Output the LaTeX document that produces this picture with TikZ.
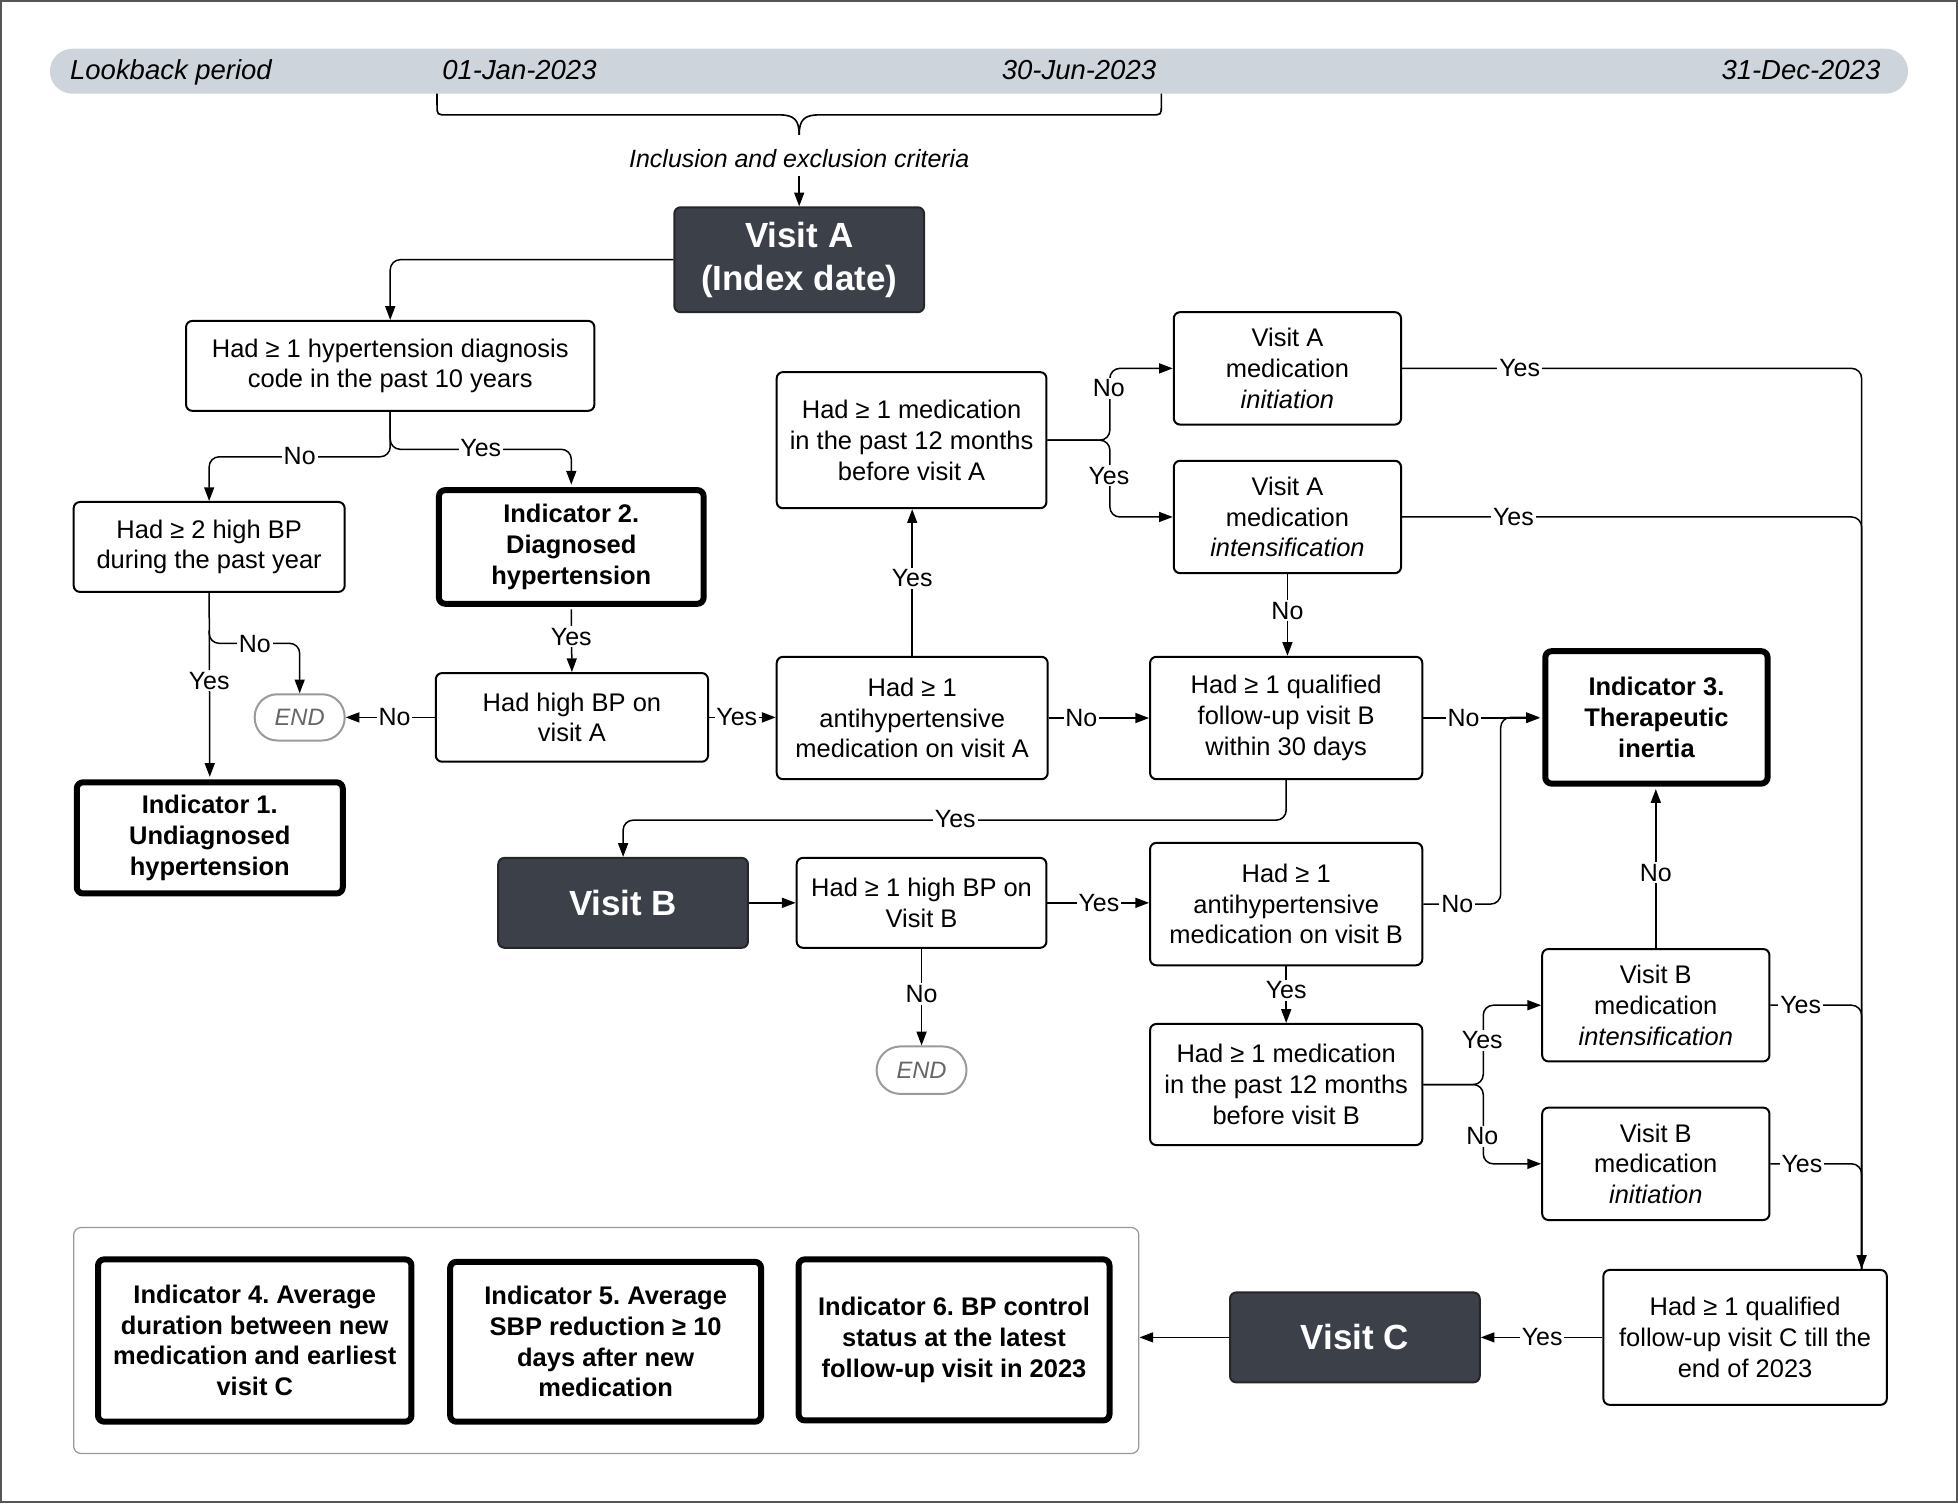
\documentclass[tikz,border=0pt]{standalone}
\usepackage{fontspec}
\setmainfont{Liberation Sans}
\usetikzlibrary{arrows.meta,calc}
\definecolor{dark}{HTML}{3B4049}
\definecolor{bar}{HTML}{CED4DC}
\definecolor{endgray}{HTML}{9A9A9A}
\definecolor{frame}{HTML}{555555}
\frenchspacing
\begin{document}
\begin{tikzpicture}[x=1pt,y=-1pt,
  every node/.style={font=\fontsize{20.4}{24.6}\selectfont},
  sz/.style 2 args={minimum width=#1pt, minimum height=#2pt},
  box/.style={draw, rounded corners=5pt, line width=1.6pt, fill=white, align=center, inner sep=0pt},
  ind/.style={box, line width=4.8pt, font=\fontsize{20.4}{24.6}\selectfont\bfseries},
  visit/.style={draw=black!85, fill=dark, text=white, rounded corners=5pt, line width=1.6pt, align=center, inner sep=0pt, font=\fontsize{28}{34}\selectfont\bfseries},
  endn/.style={draw=endgray, line width=1.6pt, rounded corners=18pt, fill=white, text=black!60, font=\fontsize{19}{23}\selectfont\itshape, inner sep=0pt},
  lbl/.style={fill=white, inner sep=1.5pt, font=\fontsize{20}{24}\selectfont},
  con/.style={line width=1.2pt, rounded corners=8pt},
  arr/.style={con, -{Triangle[length=11pt,width=8pt]}},
  tltext/.style={inner sep=0pt, font=\fontsize{22}{26}\selectfont\itshape},
]
\useasboundingbox (0,0) rectangle (1568,1204);
\draw[frame, line width=2pt] (1,1) rectangle (1567,1203);

% timeline
\node[fill=bar, rounded corners=18pt, sz={1488}{36}, inner sep=0pt] (tl) at (784,57) {};
\node[tltext, anchor=base west] (lb) at (56,64) {Lookback period};
\node[tltext, anchor=base west] (jan) at (354,64) {01-Jan-2023};
\node[tltext, anchor=base east] (jun) at (926,64) {30-Jun-2023};
\node[tltext, anchor=base east] (dec) at (1506,64) {31-Dec-2023};
\draw[line width=1.3pt] (350,75) -- (350,84) .. controls (350,92) .. (358,92) -- (624,92) .. controls (636,92) and (640,96) .. (640,108);
\draw[line width=1.3pt] (930,75) -- (930,84) .. controls (930,92) .. (922,92) -- (656,92) .. controls (644,92) and (640,96) .. (640,108);
\node[inner sep=0pt, font=\fontsize{20}{24}\selectfont\itshape, anchor=base] (crit) at (640,134) {Inclusion and exclusion criteria};
\coordinate (critb) at (640,141);

% nodes
\node[visit, sz={200}{84}] (visitA) at (640,208) {Visit A\\(Index date)};
\node[box, sz={327}{72}] (hyp) at (312.5,293) {Had ≥ 1 hypertension diagnosis\\code in the past 10 years};
\node[box, sz={217}{72}] (dx) at (167.5,438) {Had ≥ 2 high BP\\during the past year};
\node[ind, sz={212}{91}] (ind2) at (457.5,438) {Indicator 2.\\Diagnosed\\hypertension};
\node[endn, sz={72}{37}] (end1) at (240,574.5) {END};
\node[ind, sz={213}{89}] (ind1) at (168,671) {Indicator 1.\\Undiagnosed\\hypertension};
\node[box, sz={218}{71}] (hba) at (458,574.5) {Had high BP on\\visit A};
\node[box, sz={217}{98}] (ahA) at (730.5,575) {Had ≥ 1\\antihypertensive\\medication on visit A};
\node[box, sz={216}{109}] (m12A) at (730,352.5) {Had ≥ 1 medication\\in the past 12 months\\before visit A};
\node[box, sz={182}{90}] (iniA) at (1031,295) {Visit A\\medication\\\textit{initiation}};
\node[box, sz={182}{90}] (intA) at (1031,414) {Visit A\\medication\\\textit{intensification}};
\node[box, sz={218}{98}] (qB) at (1030,575) {Had ≥ 1 qualified\\follow-up visit B\\within 30 days};
\node[ind, sz={178}{106}] (ind3) at (1326.5,574.5) {Indicator 3.\\Therapeutic\\inertia};
\node[visit, sz={200}{72}] (visitB) at (499,723) {Visit B};
\node[box, sz={200}{72}] (hbB) at (738,723) {Had ≥ 1 high BP on\\Visit B};
\node[endn, sz={72}{38}, rounded corners=19pt] (end2) at (738,857) {END};
\node[box, sz={218}{98}] (ahB) at (1030,724) {Had ≥ 1\\antihypertensive\\medication on visit B};
\node[box, sz={218}{97}] (m12B) at (1030,868.5) {Had ≥ 1 medication\\in the past 12 months\\before visit B};
\node[box, sz={182}{90}] (intB) at (1326,805) {Visit B\\medication\\\textit{intensification}};
\node[box, sz={182}{90}] (iniB) at (1326,932) {Visit B\\medication\\\textit{initiation}};
\node[box, sz={227}{108}] (qC) at (1397.5,1071) {Had ≥ 1 qualified\\follow-up visit C till the\\end of 2023};
\coordinate (qCin) at ($(qC.north east)+(-21,0)$);
\node[visit, sz={200}{72}] (visitC) at (1085,1071) {Visit C};
\node[draw=black!40, rounded corners=6pt, line width=1pt, sz={853}{181}, inner sep=0pt] (grp) at (485.5,1073.5) {};
\node[ind, sz={251}{130}] (ind4) at (204,1073.5) {Indicator 4. Average\\duration between new\\medication and earliest\\visit C};
\node[ind, sz={249}{128}] (ind5) at (485,1074.5) {Indicator 5. Average\\SBP reduction ≥ 10\\days after new\\medication};
\node[ind, sz={249}{129}] (ind6) at (764,1073) {Indicator 6. BP control\\status at the latest\\follow-up visit in 2023};

% connectors
\draw[arr] (critb) -- (visitA.north);
\draw[arr] (visitA.west) -| (hyp.north);
\draw[arr] (hyp.south) -- ++(0,36) -| (dx.north);
\draw[arr] (hyp.south) -- ++(0,30) -| ($(ind2.north)+(0,-2)$);
\draw[arr] (dx.south) -- ($(ind1.north)+(0,-2)$);
\draw[arr] ($(dx.south)+(0,30)$) |- ($(end1.north)+(0,-40)$) -- (end1.north);
\draw[arr] ($(ind2.south)+(0,2)$) -- (hba.north);
\draw[arr] (hba.west) -- (end1.east);
\draw[arr] (hba.east) -- (hba.east -| ahA.west);
\draw[arr] (ahA.north) -- (ahA.north |- m12A.south);
\draw[arr] (ahA.east) -- (ahA.east -| qB.west);
\draw[arr] (m12A.east) -- ++(50,0) |- (iniA.west);
\draw[arr] (m12A.east) -- ++(50,0) |- (intA.west);
\draw[arr] (iniA.east) -| (qCin);
\draw[con] (intA.east) -| (qCin);
\draw[arr] (intA.south) -- (intA.south |- qB.north);
\draw[arr] (qB.east) -- ($(qB.east -| ind3.west)+(-2,0)$);
\draw[arr] (qB.south) -- ++(0,32) -| (visitB.north);
\draw[arr] (visitB.east) -- (hbB.west);
\draw[arr] (hbB.south) -- (end2.north);
\draw[arr] (hbB.east) -- (hbB.east -| ahB.west);
\draw[arr] (ahB.east) -- ++(62,0) |- ($(ind3.west)+(-2,0)$);
\draw[arr] (ahB.south) -- (m12B.north);
\draw[arr] (m12B.east) -- ++(48,0) |- (intB.west);
\draw[arr] (m12B.east) -- ++(48,0) |- (iniB.west);
\draw[arr] (intB.north) -- ($(intB.north |- ind3.south)+(0,2)$);
\draw[con] (intB.east) -| (qCin);
\draw[con] (iniB.east) -| (qCin);
\draw[arr] (qC.west) -- (visitC.east);
\draw[arr] (visitC.west) -- (visitC.west -| grp.east);

% labels
\node[lbl] (l1) at (240,365) {No};
\node[lbl] (l2) at (385,359) {Yes};
\node[lbl] (l3) at (167.5,545) {Yes};
\node[lbl] (l4) at (204,516) {No};
\node[lbl] (l5) at (457.5,510) {Yes};
\node[lbl] (l6) at (316,574.5) {No};
\node[lbl] (l7) at (590,574.5) {Yes};
\node[lbl] (l8) at (730.5,463) {Yes};
\node[lbl] (l9) at (866,575) {No};
\node[lbl] (l10) at (888,311) {No};
\node[lbl] (l11) at (888,381) {Yes};
\node[lbl] (l12) at (1217,295) {Yes};
\node[lbl] (l13) at (1212,414) {Yes};
\node[lbl] (l14) at (1031,489) {No};
\node[lbl] (l15) at (1172,575) {No};
\node[lbl] (l16) at (765,656) {Yes};
\node[lbl] (l17) at (738,796) {No};
\node[lbl] (l18) at (880,723) {Yes};
\node[lbl] (l19) at (1167,724) {No};
\node[lbl] (l20) at (1030,793) {Yes};
\node[lbl] (l21) at (1187,833) {Yes};
\node[lbl] (l22) at (1187,910) {No};
\node[lbl] (l23) at (1326,699) {No};
\node[lbl] (l24) at (1442,805) {Yes};
\node[lbl] (l25) at (1443,932) {Yes};
\node[lbl] (l26) at (1235,1071) {Yes};
\end{tikzpicture}
\end{document}
